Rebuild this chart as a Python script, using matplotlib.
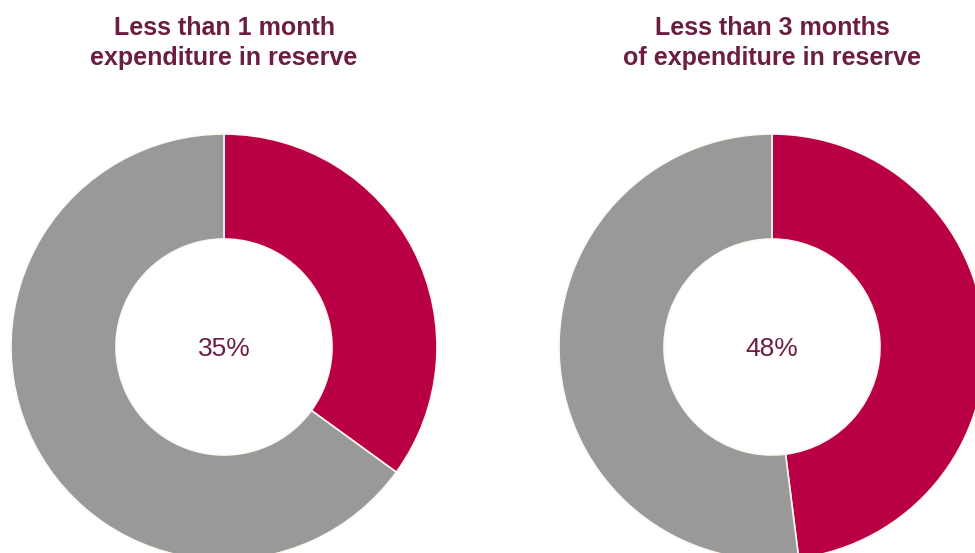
import matplotlib.pyplot as plt

# Data
titles = ['Less than 1 month\nexpenditure in reserve',
          'Less than 3 months\nof expenditure in reserve']
shares = [35, 48]
labels = ['35%', '48%']

red = '#BA0045'
grey = '#999999'
maroon = '#6B1D42'

W, H = 975, 553
fig = plt.figure(figsize=(W / 100, H / 100), dpi=100)
ax = fig.add_axes([0, 0, 1, 1])

centres_x = [224, 772]
cy = H - 347
r_out = 213
r_in = 108

for i in range(2):
    ax.pie([shares[i], 100 - shares[i]], colors=[red, grey], startangle=90,
           counterclock=False, center=(centres_x[i], cy), radius=r_out,
           wedgeprops=dict(width=r_out - r_in, edgecolor='#FFF8F0', linewidth=1.2),
           frame=True)
    ax.text(centres_x[i], cy - 2, labels[i], ha='center', va='center',
            fontsize=19, color=maroon, family='Liberation Sans')
    ax.text(centres_x[i], H - 43, titles[i], ha='center', va='center',
            fontsize=18, fontweight='bold', color=maroon,
            family='Liberation Sans', linespacing=1.3)

ax.set_xlim(0, W)
ax.set_ylim(0, H)
ax.set_aspect('equal')
ax.axis('off')
fig.savefig('out.png', dpi=100)
